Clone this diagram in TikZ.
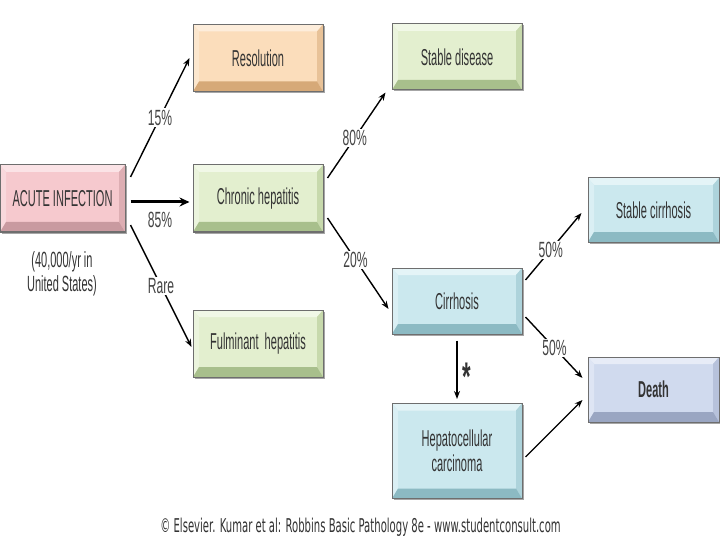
\documentclass[tikz,border=0pt]{standalone}
\usepackage{fontspec}
\newfontfamily\nf[FakeStretch=0.48]{Liberation Sans}
\newfontfamily\lf[FakeStretch=0.55]{Liberation Sans}
\newfontfamily\mf[FakeStretch=0.5]{Liberation Sans}
\newfontfamily\ff[FakeStretch=0.53]{DejaVu Sans}
\usetikzlibrary{arrows.meta,calc,shadows}
\definecolor{txt}{HTML}{333333}
\definecolor{labc}{HTML}{444444}
\definecolor{bord}{HTML}{6E6E6E}
% pink
\definecolor{pkF}{HTML}{F6C9CE}\definecolor{pkT}{HTML}{FBE3E6}\definecolor{pkR}{HTML}{DDAEB3}\definecolor{pkB}{HTML}{C99AA0}
% peach
\definecolor{peF}{HTML}{FBDDBB}\definecolor{peT}{HTML}{FDEDDB}\definecolor{peR}{HTML}{E8C298}\definecolor{peB}{HTML}{D6A978}
% green
\definecolor{grF}{HTML}{E3EFCF}\definecolor{grT}{HTML}{F1F8E7}\definecolor{grR}{HTML}{C7D9AC}\definecolor{grB}{HTML}{A8BF8C}
% blue
\definecolor{blF}{HTML}{CBE8EE}\definecolor{blT}{HTML}{E4F4F7}\definecolor{blR}{HTML}{ADD3DB}\definecolor{blB}{HTML}{8CBAC3}
% lavender
\definecolor{lvF}{HTML}{D0DAEE}\definecolor{lvT}{HTML}{E7ECF7}\definecolor{lvR}{HTML}{B7C2DB}\definecolor{lvB}{HTML}{9AA6C2}
\tikzset{
  box/.style={minimum width=130pt, minimum height=67pt, inner sep=0pt, align=center,
    font=\nf\fontsize{23}{25}\selectfont, text=txt, draw=bord, line width=1pt,
    drop shadow={shadow xshift=1.5pt, shadow yshift=-1.5pt, fill=black!35, opacity=1}},
  bevel/.style n args={4}{fill=#1, path picture={
    \path (path picture bounding box.south west) coordinate (bsw)
          (path picture bounding box.south east) coordinate (bse)
          (path picture bounding box.north west) coordinate (bnw)
          (path picture bounding box.north east) coordinate (bne);
    \fill[#2] (bnw) -- (bne) -- ([shift={(-6pt,-7pt)}]bne) -- ([shift={(6pt,-7pt)}]bnw) -- cycle;
    \fill[#2!60!#1] (bnw) -- ([shift={(6pt,-7pt)}]bnw) -- ([shift={(6pt,10pt)}]bsw) -- (bsw) -- cycle;
    \fill[#3] (bne) -- ([shift={(-6pt,-7pt)}]bne) -- ([shift={(-6pt,10pt)}]bse) -- (bse) -- cycle;
    \fill[#4] (bsw) -- ([shift={(6pt,10pt)}]bsw) -- ([shift={(-6pt,10pt)}]bse) -- (bse) -- cycle;
  }},
  pink/.style={bevel={pkF}{pkT}{pkR}{pkB}},
  peach/.style={bevel={peF}{peT}{peR}{peB}},
  green/.style={bevel={grF}{grT}{grR}{grB}},
  blue/.style={bevel={blF}{blT}{blR}{blB}},
  lav/.style={bevel={lvF}{lvT}{lvR}{lvB}},
  arr/.style={-{Stealth[length=8pt,width=6pt]}, line width=1.4pt, black},
  lab/.style={fill=white, inner sep=1.5pt, font=\lf\fontsize{22}{24}\selectfont, text=labc},
  note/.style={align=center, font=\mf\fontsize{22}{24}\selectfont, text=txt},
}
\begin{document}
\begin{tikzpicture}[x=1pt,y=-1pt]
\useasboundingbox[fill=white] (0,0) rectangle (720,540);

\node[box,pink,minimum width=125pt] (acute) at (62.5,198.5) {ACUTE INFECTION};
\node[note] (count) at (62,274) {(40,000/yr in\\United States)};

\node[box,peach] (resol) at (258,58) {Resolution};
\node[box,green] (chronic) at (258,198.5) {Chronic hepatitis};
\node[box,green] (fulm) at (258,343.5) {Fulminant\ \ hepatitis};

\node[box,green,minimum height=66pt] (stable) at (457,57) {Stable disease};
\node[box,blue,minimum height=66pt] (cirr) at (457,301) {Cirrhosis};
\node[box,blue,minimum height=95pt] (hcc) at (457,451) {Hepatocellular\\carcinoma};

\node[box,blue,minimum width=131pt,minimum height=64pt] (stabc) at (653.5,210) {Stable cirrhosis};
\node[box,lav,minimum width=131pt,minimum height=65pt,font=\nf\bfseries\fontsize{23}{25}\selectfont] (death) at (653.5,389.5) {Death};

% connectors
\draw[arr] ($(acute.east)+(5,-21.5)$) -- node[lab,pos=0.5]{15\%} ($(resol.west)+(-3,0)$);
\draw[arr,line width=3pt,-{Stealth[length=10pt,width=9pt]}] ($(acute.east)+(5,3.5)$) -- node[lab,below=7pt,fill=none]{85\%} ($(chronic.west)+(-3,3.5)$);
\draw[arr] ($(acute.east)+(5,26.5)$) -- node[lab,pos=0.5]{Rare} ($(fulm.west)+(-1,3.5)$);

\draw[arr] ($(chronic.east)+(4,-20.5)$) -- node[lab,pos=0.47]{80\%} ($(stable.south west)+(-6,2)$);
\draw[arr] ($(chronic.east)+(4,19.5)$) -- node[lab,pos=0.46]{20\%} ($(cirr.west)+(-3,8)$);

\draw[arr] ($(cirr.east)+(3,-21)$) -- node[lab,pos=0.45]{50\%} ($(stabc.west)+(-6,3)$);
\draw[arr] ($(cirr.east)+(3,16)$) -- node[lab,pos=0.51]{50\%} ($(death.west)+(-5,-11.5)$);
\draw[arr] ($(hcc.east)+(3,6)$) -- ($(death.west)+(-5,10.5)$);

\draw[arr] ($(cirr.south)+(0,6)$) -- node[right=1pt,font=\lf\bfseries\fontsize{40}{40}\selectfont,text=txt,pos=0.62]{*} ($(hcc.north)+(0,-4)$);

\node[font=\ff\fontsize{19}{22}\selectfont, text=txt] (credit) at (360.5,527) {\textcopyright{} Elsevier. Kumar et al: Robbins Basic Pathology 8e - www.studentconsult.com};
\end{tikzpicture}
\end{document}
